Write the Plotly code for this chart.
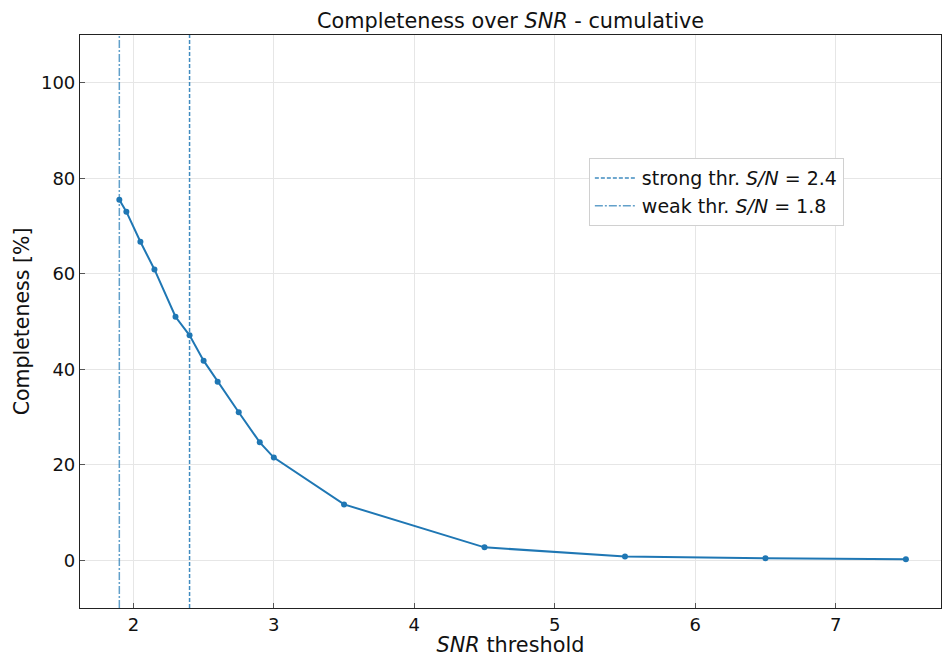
import plotly.graph_objects as go

# Cumulative completeness as a function of the SNR threshold
snr_threshold = [1.9, 1.95, 2.05, 2.15, 2.3, 2.4, 2.5, 2.6, 2.75, 2.9, 3.0, 3.5, 4.5, 5.5, 6.5, 7.5]
completeness = [75.5, 73.0, 66.7, 60.9, 51.0, 47.1, 41.8, 37.4, 31.0, 24.7, 21.5, 11.7, 2.7, 0.8, 0.4, 0.2]

strong_thr = 2.4
weak_thr_pos = 1.9
weak_thr_label = 1.8

x_ticks = [2, 3, 4, 5, 6, 7]
y_ticks = [0, 20, 40, 60, 80, 100]
x_range = [1.62, 7.75]
y_range = [-10, 110]

blue = "#1f77b4"
font = "DejaVu Sans"

fig = go.Figure()

fig.add_trace(go.Scatter(
    x=[strong_thr, strong_thr], y=y_range, mode="lines",
    line=dict(color="rgba(31,119,180,0.85)", width=1.5, dash="4px,2px"),
    name=f"strong thr. <i>S/N</i> = {strong_thr}",
))
fig.add_trace(go.Scatter(
    x=[weak_thr_pos, weak_thr_pos], y=y_range, mode="lines",
    line=dict(color="rgba(31,119,180,0.7)", width=1.5, dash="8px,2px,2px,2px"),
    name=f"weak thr. <i>S/N</i> = {weak_thr_label}",
))
fig.add_trace(go.Scatter(
    x=snr_threshold, y=completeness, mode="lines+markers",
    line=dict(color=blue, width=2),
    marker=dict(color=blue, size=6),
    showlegend=False,
))

axis_common = dict(
    showgrid=True, gridcolor="#e6e6e6", gridwidth=1,
    ticks="inside", ticklen=5, tickwidth=1, tickcolor="#555555",
    showline=True, linecolor="#222222", linewidth=1.2, mirror=True,
    zeroline=False,
    tickfont=dict(family=font, size=18, color="#111111"),
)

fig.update_layout(
    width=942, height=657,
    margin=dict(l=80, r=1, t=35, b=49),
    paper_bgcolor="white", plot_bgcolor="white",
    font=dict(family=font, color="#111111"),
    title=dict(
        text="Completeness over <i>SNR</i> - cumulative",
        font=dict(family=font, size=20.8, color="#111111"),
        x=0.5 * (80 + 941) / 942, xanchor="center",
        y=1 - 21 / 657, yanchor="middle",
    ),
    xaxis=dict(
        range=x_range, tickvals=x_ticks,
        title=dict(text="<i>SNR</i> threshold", font=dict(family=font, size=20.8), standoff=4),
        **axis_common,
    ),
    yaxis=dict(
        range=y_range, tickvals=y_ticks,
        title=dict(text="Completeness [%]", font=dict(family=font, size=20.5), standoff=5),
        **axis_common,
    ),
    legend=dict(
        x=0.591, y=0.785, xanchor="left", yanchor="top",
        bgcolor="white", bordercolor="#d0d0d0", borderwidth=1,
        font=dict(family=font, size=19, color="#111111"),
        itemwidth=42, tracegroupgap=2,
    ),
)

fig.write_html("out.html")
